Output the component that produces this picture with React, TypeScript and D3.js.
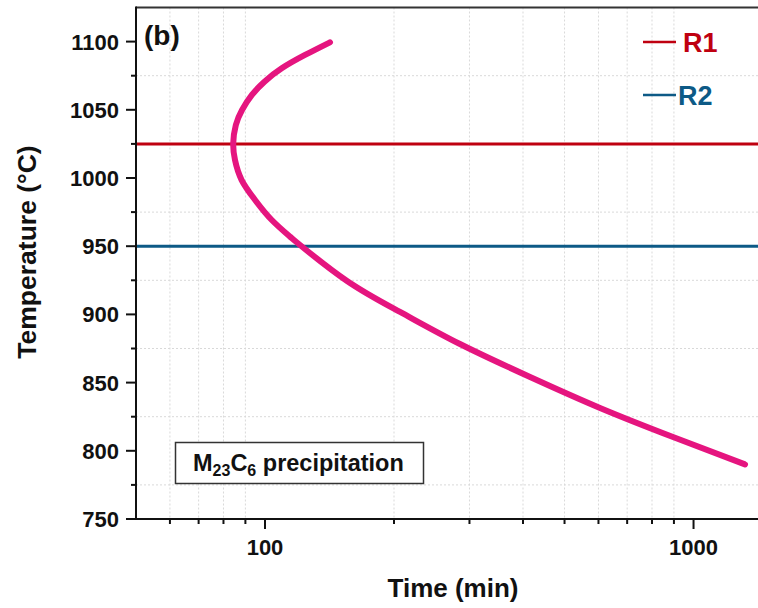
import React from "react";
import * as d3 from "d3";

const curveTime = [141.8, 124.0, 109.4, 99.7, 93.2, 88.4, 85.5, 84.3, 85.1, 88.2, 94.8, 103.7, 114.4, 120.7, 155.4, 206.6, 285.1, 415.5, 605, 895.6, 1318.6];
const curveTemp = [1099.5, 1090.2, 1080.4, 1070.6, 1060.9, 1049.9, 1038.9, 1025.4, 1013.2, 998.5, 983.9, 969.2, 957.0, 950.9, 924.5, 901.8, 878.3, 854.1, 831.4, 810.1, 790.0];
const refNames = ["R1", "R2"];
const refTemps = [1025, 950];
const refColors = ["#bf0010", "#0d5a86"];
const yMajor = [750, 800, 850, 900, 950, 1000, 1050, 1100];
const yMinor = [775, 825, 875, 925, 975, 1025, 1075];
const xMajor = [100, 1000];
const xMinor = [60, 70, 80, 90, 200, 300, 400, 500, 600, 700, 800, 900];

const W = 758;
const H = 608;
const L = 136;
const T = 7.5;
const B = 519;

export default function App() {
  const x = d3.scaleLog().domain([50, 1500]).range([L, 769]);
  const y = d3.scaleLinear().domain([750, 1125]).range([B, T]);
  const pts: [number, number][] = curveTime.map((t, i) => [t, curveTemp[i]]);
  const line = d3
    .line<[number, number]>()
    .x((d) => x(d[0]))
    .y((d) => y(d[1]))
    .curve(d3.curveNatural);
  const font = "'Liberation Sans', Arial, sans-serif";
  return (
    <svg
      width={W}
      height={H}
      style={{ position: "absolute", left: 0, top: 0, background: "#fff" }}
      fontFamily={font}
    >
      <defs>
        <clipPath id="plot">
          <rect x={L} y={T} width={W - L} height={B - T} />
        </clipPath>
      </defs>
      {/* grid */}
      <g stroke="#d9d9d9" strokeWidth={1} strokeDasharray="2,2">
        {xMinor.map((v) => (
          <line key={"gx" + v} x1={x(v)} x2={x(v)} y1={T} y2={B} />
        ))}
        {yMinor.map((v) => (
          <line key={"gy" + v} x1={L} x2={W} y1={y(v)} y2={y(v)} />
        ))}
      </g>
      {/* reference lines */}
      <g clipPath="url(#plot)">
        {refTemps.map((v, i) => (
          <line key={"r" + i} x1={L} x2={W} y1={y(v)} y2={y(v)} stroke={refColors[i]} strokeWidth={3} />
        ))}
        <path d={line(pts) || ""} fill="none" stroke="#e5157f" strokeWidth={6} strokeLinecap="round" strokeLinejoin="round" />
      </g>
      {/* axes */}
      <line x1={L} x2={W} y1={T} y2={T} stroke="#333" strokeWidth={2} />
      <line x1={L} x2={L} y1={T - 1} y2={B + 1} stroke="#111" strokeWidth={2} />
      <line x1={L - 1} x2={W} y1={B} y2={B} stroke="#111" strokeWidth={2} />
      <g stroke="#111" strokeWidth={2}>
        {yMajor.map((v) => (
          <line key={"ym" + v} x1={L - 10} x2={L} y1={y(v)} y2={y(v)} />
        ))}
        {yMinor.map((v) => (
          <line key={"yn" + v} x1={L - 5} x2={L} y1={y(v)} y2={y(v)} />
        ))}
        {xMajor.map((v) => (
          <line key={"xm" + v} x1={x(v)} x2={x(v)} y1={B} y2={B + 10} />
        ))}
        {xMinor.map((v) => (
          <line key={"xn" + v} x1={x(v)} x2={x(v)} y1={B} y2={B + 5} />
        ))}
      </g>
      <g fontSize={22} fontWeight="bold" fill="#111">
        {yMajor.map((v) => (
          <text key={"yl" + v} x={L - 17} y={y(v)} dy="0.36em" textAnchor="end">
            {v}
          </text>
        ))}
        {xMajor.map((v) => (
          <text key={"xl" + v} x={x(v)} y={B + 36} textAnchor="middle">
            {v}
          </text>
        ))}
      </g>
      <text x={453} y={597} textAnchor="middle" fontSize={26} fontWeight="bold" fill="#111">
        Time (min)
      </text>
      <text
        transform={`translate(36,252) rotate(-90)`}
        textAnchor="middle"
        fontSize={26.5}
        fontWeight="bold"
        fill="#111"
      >
        Temperature (°C)
      </text>
      <text x={144} y={45} fontSize={28} fontWeight="bold" fill="#111">
        (b)
      </text>
      {/* legend */}
      {refNames.map((n, i) => (
        <g key={"lg" + n}>
          <line x1={643} x2={676} y1={42 + i * 53} y2={42 + i * 53} stroke={refColors[i]} strokeWidth={2.5} />
          <text x={i === 0 ? 683 : 678} y={42 + i * 53} dy="0.36em" fontSize={27} fontWeight="bold" fill={refColors[i]}>
            {n}
          </text>
        </g>
      ))}
      {/* annotation box */}
      <rect x={175.5} y={442.5} width={248} height={41} fill="#fff" stroke="#333" strokeWidth={1.5} />
      <text x={193} y={471} fontSize={23.5} fontWeight="bold" fill="#111">
        M<tspan fontSize={16} dy={5}>23</tspan>
        <tspan dy={-5}>C</tspan>
        <tspan fontSize={16} dy={5}>6</tspan>
        <tspan dy={-5}> precipitation</tspan>
      </text>
    </svg>
  );
}
